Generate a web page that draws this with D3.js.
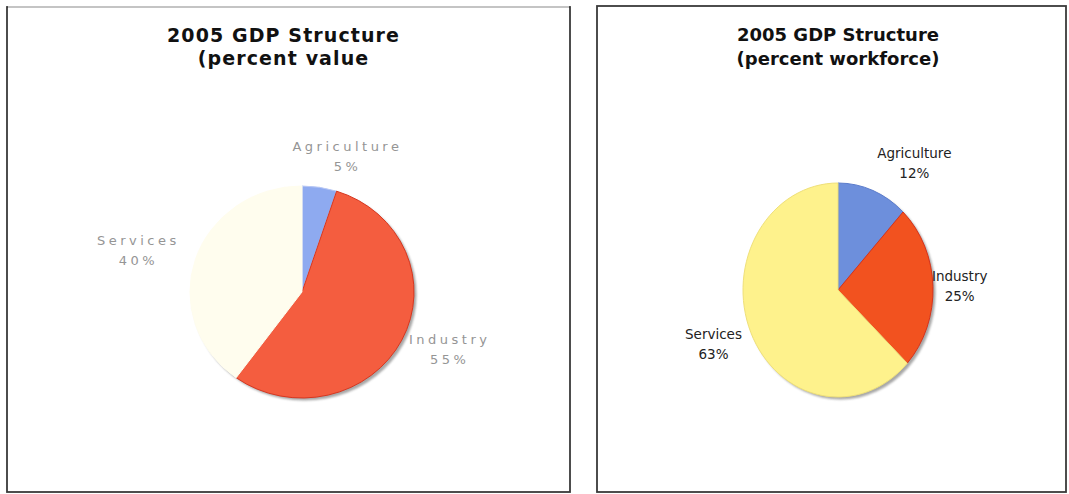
<!DOCTYPE html>
<head>
<meta charset="utf-8">
<title>2005 GDP Structure</title>
<style>
body { margin: 0; background: #fff; }
svg { display: block; }
.title { text-anchor: middle; fill: #111; font-family: "DejaVu Sans", Verdana, sans-serif; font-weight: bold; }
.lbl { text-anchor: middle; font-family: "DejaVu Sans", Verdana, sans-serif; }
</style>
</head>
<body>
<script src="https://cdn.jsdelivr.net/npm/d3@7/dist/d3.min.js"></script>
<script>
// data
var categories = ["Agriculture", "Industry", "Services"];
var valueShare = [5, 55, 40];        // percent of GDP value
var workforceShare = [12, 25, 63];   // percent of workforce

var width = 1069, height = 494;

var svg = d3.select("body").append("svg")
    .attr("width", width)
    .attr("height", height);

var defs = svg.append("defs");
defs.append("filter").attr("id", "soft")
  .append("feGaussianBlur").attr("stdDeviation", 1.2);

// layout of the two panels (positions/styles only)
var panels = [
  {
    title: ["2005 GDP Structure", "(percent value"],
    values: valueShare,
    box: {x: 7, y: 7, w: 563, h: 485},
    titleX: 283, titleSize: 19, titleSpacing: 1.1, titleY: [42, 65],
    cx: 302, cy: 292, rx: 112, ry: 106,
    colors: ["#8eaaf0", "#f45d3f", "#fffdee"],
    edges: ["#b9c8f5", "#d8361f", "#fffdee"],
    labelSize: 13, labelSpacing: 3.5, labelColor: "#959595",
    nudge: [[16, -2], [1, -5], [-10, 0]]
  },
  {
    title: ["2005 GDP Structure", "(percent workforce)"],
    values: workforceShare,
    box: {x: 597, y: 6, w: 469, h: 486},
    titleX: 838, titleSize: 18, titleSpacing: 0, titleY: [41, 65],
    cx: 838, cy: 290, rx: 95, ry: 107,
    colors: ["#6d8fdc", "#f2521f", "#fef28c"],
    edges: ["#5b7ccc", "#d8321a", "#efe07a"],
    labelSize: 13.5, labelSpacing: 0, labelColor: "#222",
    nudge: [[24, 0], [-11, 0], [-2, 0]]
  }
];

var pie = d3.pie().sort(null).value(function(d) { return d; });
var arc = d3.arc().innerRadius(0).outerRadius(100);

panels.forEach(function(p, pi) {
  var g = svg.append("g");

  // frame
  g.append("rect")
    .attr("x", p.box.x).attr("y", p.box.y)
    .attr("width", p.box.w).attr("height", p.box.h)
    .attr("fill", "#fff")
    .attr("stroke", "#3a3a3a")
    .attr("stroke-width", 1.8);
  if (pi == 0) {
    // the scan shows a faint top edge on the first frame
    g.append("line")
      .attr("x1", p.box.x + 1).attr("x2", p.box.x + p.box.w - 1)
      .attr("y1", p.box.y).attr("y2", p.box.y)
      .attr("stroke", "#c4c4c4").attr("stroke-width", 2);
  }

  // title
  p.title.forEach(function(t, i) {
    g.append("text")
      .attr("class", "title")
      .attr("x", p.titleX + p.titleSpacing / 2)
      .attr("y", p.titleY[i])
      .style("font-size", p.titleSize + "px")
      .style("letter-spacing", p.titleSpacing + "px")
      .text(t);
  });

  // shadow under the pie
  g.append("ellipse")
    .attr("cx", p.cx + 2.5).attr("cy", p.cy + 2.5)
    .attr("rx", p.rx).attr("ry", p.ry)
    .attr("fill", "#8a8a8a")
    .attr("opacity", 0.75)
    .attr("filter", "url(#soft)");

  var arcs = pie(p.values);

  var pieG = g.append("g")
    .attr("transform", "translate(" + p.cx + "," + p.cy + ") scale(" + (p.rx / 100) + "," + (p.ry / 100) + ")");

  pieG.selectAll("path")
    .data(arcs)
    .enter().append("path")
    .attr("d", arc)
    .attr("fill", function(d, i) { return p.colors[i]; })
    .attr("stroke", function(d, i) { return p.edges[i]; })
    .attr("stroke-width", 1)
    .attr("vector-effect", "non-scaling-stroke");

  // labels: outside end of each slice, like the spreadsheet does it
  arcs.forEach(function(d, i) {
    var a = (d.startAngle + d.endAngle) / 2,
        s = Math.sin(a), c = Math.cos(a);

    var lbl = g.append("g");
    var lines = [categories[i], d.data + "%"];
    var texts = lines.map(function(t) {
      return lbl.append("text")
        .attr("class", "lbl")
        .style("font-size", p.labelSize + "px")
        .style("letter-spacing", p.labelSpacing + "px")
        .attr("fill", p.labelColor)
        .text(t);
    });
    var w = d3.max(texts, function(t) { return t.node().getComputedTextLength(); });
    var h = 40, gap = 10;
    var x = p.cx + (p.rx + gap + w / 2) * s + p.nudge[i][0];
    var y = p.cy - (p.ry + gap + h / 2) * c + p.nudge[i][1];
    texts[0].attr("x", x + p.labelSpacing / 2).attr("y", y - 5);
    texts[1].attr("x", x + p.labelSpacing / 2).attr("y", y + 15);
  });
});
</script>
</body>
